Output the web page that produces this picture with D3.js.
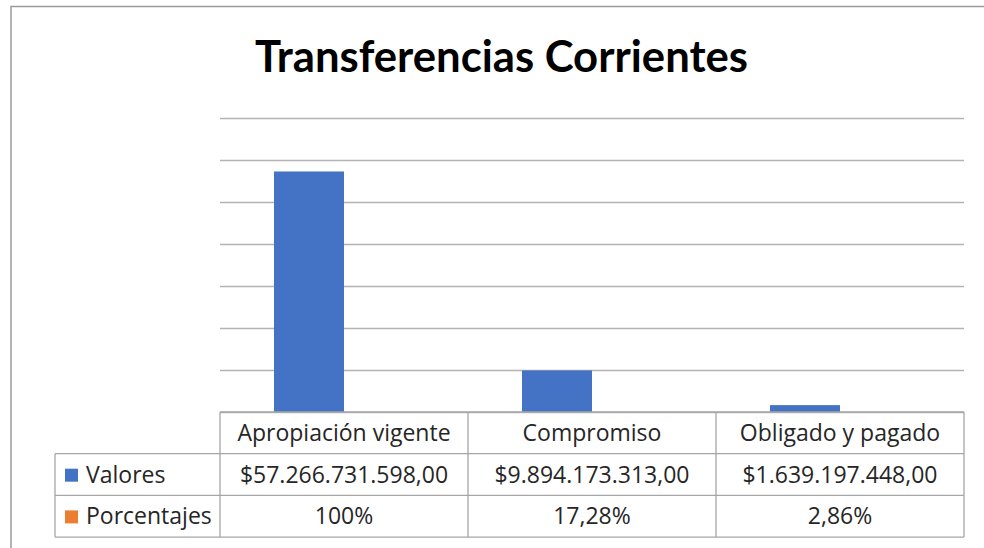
<!DOCTYPE html>
<html>
<head>
<meta charset="utf-8">
<script src="https://cdn.jsdelivr.net/npm/d3@7"></script>
<style>
  body { margin: 0; background: #fff; }
  svg { display: block; }
</style>
</head>
<body>
<div id="chart"></div>
<script>
// data
var categories = ["Apropiación vigente", "Compromiso", "Obligado y pagado"];
var seriesNames = ["Valores", "Porcentajes"];
var valores = [57266731598, 9894173313, 1639197448];
var porcentajes = [1, 0.1728, 0.0286];
var valoresLabels = ["$57.266.731.598,00", "$9.894.173.313,00", "$1.639.197.448,00"];
var porcentajesLabels = ["100%", "17,28%", "2,86%"];
var yTicks = [0, 1e10, 2e10, 3e10, 4e10, 5e10, 6e10, 7e10];
var colors = ["#4472C4", "#ED7D31"];

var W = 984, H = 548;
var plot = {left: 220, right: 964, top: 118, bottom: 412};
var rowH = 41.7;
var legendLeft = 55;

var svg = d3.select("#chart")
  .append("svg")
    .attr("width", W)
    .attr("height", H);

// outer chart border (only top and left visible)
svg.append("rect")
  .attr("x", 11).attr("y", 6.5)
  .attr("width", W + 20).attr("height", H + 20)
  .attr("fill", "none")
  .attr("stroke", "#9a9a9a")
  .attr("stroke-width", 1.5);

// title
svg.append("text")
  .attr("x", 255).attr("y", 72)
  .attr("font-family", "Lato")
  .attr("font-weight", "bold")
  .attr("font-size", 44)
  .attr("textLength", 493)
  .attr("lengthAdjust", "spacingAndGlyphs")
  .attr("fill", "#000")
  .text("Transferencias Corrientes");

// scales
var x = d3.scaleBand()
  .domain(categories)
  .range([plot.left, plot.right]);

var xs = d3.scaleBand()
  .domain(seriesNames)
  .range([0, x.bandwidth()])
  .paddingOuter(0.771);

var y = d3.scaleLinear()
  .domain([0, 7e10])
  .range([plot.bottom, plot.top]);

// gridlines
var grid = svg.append("g")
  .attr("transform", "translate(" + plot.left + ",0)")
  .call(d3.axisLeft(y).tickValues(yTicks).tickSize(-(plot.right - plot.left)).tickFormat(""));
grid.select(".domain").remove();
grid.selectAll("line").attr("stroke", "#b3b3b3").attr("stroke-width", 1.3);

// bars
var rows = categories.map(function(c, i) {
  return {cat: c, values: [valores[i], porcentajes[i]]};
});

svg.append("g")
  .selectAll("g")
  .data(rows)
  .enter()
  .append("g")
    .attr("transform", function(d) { return "translate(" + x(d.cat) + ",0)"; })
  .selectAll("rect")
  .data(function(d) { return d.values.map(function(v, j) { return {s: seriesNames[j], v: v, j: j}; }); })
  .enter()
  .append("rect")
    .attr("x", function(d) { return xs(d.s); })
    .attr("y", function(d) { return y(d.v); })
    .attr("width", xs.bandwidth())
    .attr("height", function(d) { return y(0) - y(d.v); })
    .attr("fill", function(d) { return colors[d.j]; });

// data table
var table = svg.append("g");
var lineColor = "#a6a6a6";
var t0 = plot.bottom;
var rowY = [t0, t0 + rowH, t0 + 2 * rowH, t0 + 3 * rowH];

function hline(x1, x2, yy) {
  table.append("line")
    .attr("x1", x1).attr("x2", x2).attr("y1", yy).attr("y2", yy)
    .attr("stroke", lineColor).attr("stroke-width", 1.3);
}
function vline(xx, y1, y2) {
  table.append("line")
    .attr("x1", xx).attr("x2", xx).attr("y1", y1).attr("y2", y2)
    .attr("stroke", lineColor).attr("stroke-width", 1.3);
}

hline(plot.left, plot.right, rowY[0]);
hline(legendLeft, plot.right, rowY[1]);
hline(legendLeft, plot.right, rowY[2]);
hline(legendLeft, plot.right, rowY[3]);
vline(legendLeft, rowY[1], rowY[3]);
categories.forEach(function(c) { vline(x(c), rowY[0], rowY[3]); });
vline(plot.right, rowY[0], rowY[3]);

var fontFam = "Open Sans";
var fs = 23;

function cellText(txt, cx, rowIdx) {
  table.append("text")
    .attr("x", cx)
    .attr("y", rowY[rowIdx] + 29)
    .attr("text-anchor", "middle")
    .attr("font-family", fontFam)
    .attr("font-size", fs)
    .attr("fill", "#262626")
    .text(txt);
}

categories.forEach(function(c, i) {
  var cx = x(c) + x.bandwidth() / 2;
  cellText(c, cx, 0);
  cellText(valoresLabels[i], cx, 1);
  cellText(porcentajesLabels[i], cx, 2);
});

// legend keys in the table
seriesNames.forEach(function(s, j) {
  table.append("rect")
    .attr("x", 65)
    .attr("y", rowY[j + 1] + 15)
    .attr("width", 13).attr("height", 13)
    .attr("fill", colors[j]);
  table.append("text")
    .attr("x", 86)
    .attr("y", rowY[j + 1] + 29)
    .attr("font-family", fontFam)
    .attr("font-size", fs)
    .attr("fill", "#262626")
    .text(s);
});
</script>
</body>
</html>
